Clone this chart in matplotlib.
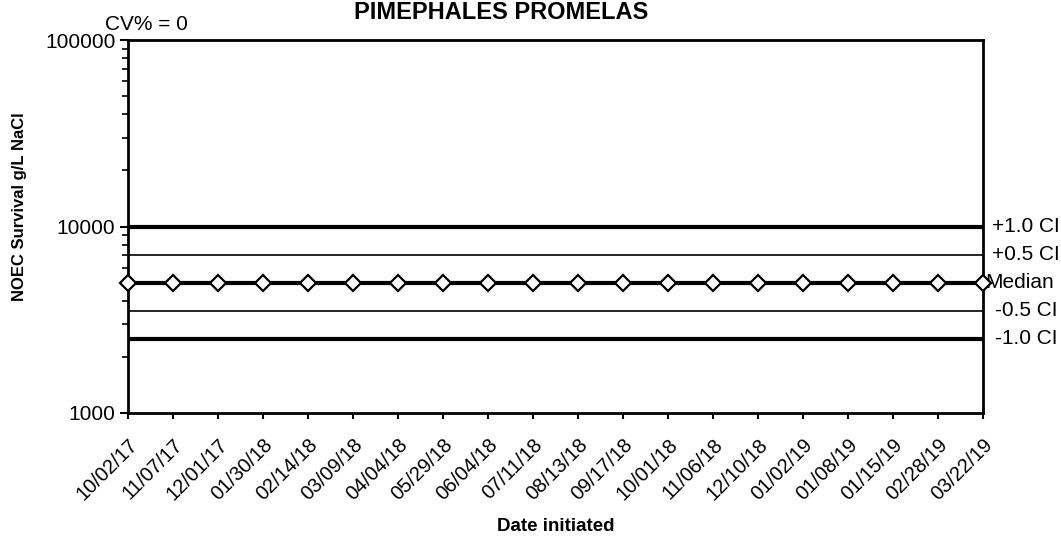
import matplotlib
matplotlib.use("Agg")
import matplotlib.pyplot as plt
from matplotlib.ticker import LogLocator, NullFormatter, FixedLocator

plt.rcParams['font.family'] = ['Liberation Sans', 'DejaVu Sans']

# Test initiation dates
dates = ["10/02/17", "11/07/17", "12/01/17", "01/30/18", "02/14/18", "03/09/18",
         "04/04/18", "05/29/18", "06/04/18", "07/11/18", "08/13/18", "09/17/18",
         "10/01/18", "11/06/18", "12/10/18", "01/02/19", "01/08/19", "01/15/19",
         "02/28/19", "03/22/19"]

# NOEC survival results (g/L NaCl)
noec = [5000] * 20

# Control chart limits
median = 5000
ci_plus_1 = 10000
ci_plus_05 = 7071
ci_minus_05 = 3536
ci_minus_1 = 2500

limit_labels = ["+1.0 CI", "+0.5 CI", "Median", "-0.5 CI", "-1.0 CI"]
limit_values = [ci_plus_1, ci_plus_05, median, ci_minus_05, ci_minus_1]

fig = plt.figure(figsize=(10.61, 5.44), dpi=100)
ax = fig.add_axes([128/1061, 1 - 413/544, (983-128)/1061, (413-40)/544])

x = list(range(len(dates)))
n = len(dates)

ax.plot([0, n-1], [ci_plus_1]*2, color='black', lw=3.0)
ax.plot([0, n-1], [ci_plus_05]*2, color='black', lw=1.2)
ax.plot([0, n-1], [ci_minus_05]*2, color='black', lw=1.2)
ax.plot([0, n-1], [ci_minus_1]*2, color='black', lw=3.0)
ax.plot(x, [median]*n, color='black', lw=3.0)
ax.plot(x, noec, linestyle='none', marker='D', markersize=8,
        markerfacecolor='white', markeredgecolor='black', markeredgewidth=1.6,
        clip_on=False, zorder=5)

ax.set_yscale('log')
ax.set_ylim(1000, 100000)
ax.set_xlim(0, n-1)

ax.yaxis.set_major_locator(FixedLocator([1000, 10000, 100000]))
ax.yaxis.set_minor_locator(LogLocator(base=10, subs=range(2, 10)))
ax.yaxis.set_minor_formatter(NullFormatter())
ax.set_yticklabels(["1000", "10000", "100000"], fontsize=15)
ax.tick_params(axis='y', which='major', direction='out', length=6, width=1.5, pad=3)
ax.tick_params(axis='y', which='minor', direction='out', length=4, width=1.2)

ax.set_xticks(x)
ax.set_xticklabels(dates, rotation=45, ha='right', va='top',
                   rotation_mode='anchor', fontsize=14.5)
ax.tick_params(axis='x', direction='out', length=4, width=1.5, pad=12)

for s in ax.spines.values():
    s.set_linewidth(2)
    s.set_color('black')

# Labels for the control limits, at the right edge
offsets = [9, 9, 2, 12, 12]
for lab, val, off in zip(limit_labels, limit_values, offsets):
    ax.annotate(lab, xy=(1, val), xycoords=('axes fraction', 'data'),
                xytext=(off, 0), textcoords='offset pixels',
                ha='left', va='center', fontsize=15, annotation_clip=False)

ax.set_xlabel("Date initiated", fontsize=13.5, fontweight='bold', labelpad=10)
fig.text(20/1061, 1 - 207/544, "NOEC Survival g/L NaCl", rotation=90,
         ha='center', va='center', fontsize=12, fontweight='bold')

fig.text(501/1061, 1 - 19/544, "PIMEPHALES PROMELAS", ha='center', va='baseline',
         fontsize=17, fontweight='bold')
fig.text(105/1061, 1 - 30/544, "CV% = 0", ha='left', va='baseline', fontsize=15)

fig.savefig("out.png", dpi=100)
